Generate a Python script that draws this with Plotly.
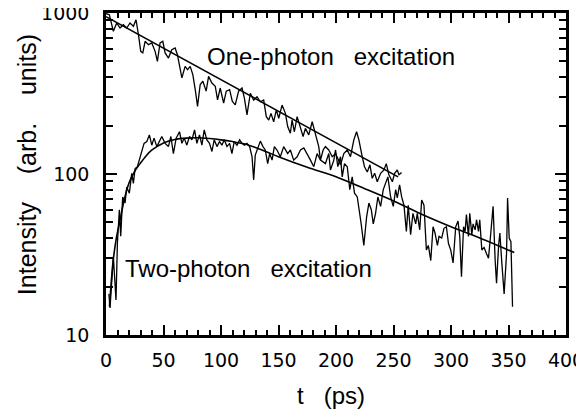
import plotly.graph_objects as go

# one-photon excitation: (t in ps, intensity)
one_photon = [
    (0, 990), (2.9, 976), (6.4, 770), (9.3, 867), (12.2, 807), (15.1, 846), (18, 807),
    (20.9, 867), (23.8, 827), (26.1, 908), (28.2, 733), (30.2, 578), (32, 565), (34, 667),
    (36.9, 636), (39.8, 651), (42.7, 578), (44.7, 501), (47, 651), (49.4, 667), (51.4, 565),
    (54.3, 525), (57.2, 592), (60.1, 606), (62.1, 551), (64.5, 444), (66, 395), (68.8, 466),
    (70.9, 444), (73.2, 466), (75.5, 414), (77.6, 334), (79.6, 263), (81.9, 359), (84.2, 377),
    (87.1, 327), (89.2, 404), (92.1, 367), (95, 351), (97, 289), (99.3, 342), (102.3, 276),
    (104.6, 327), (107.5, 334), (109.8, 283), (112.4, 269), (115.3, 327), (118.3, 342),
    (120.3, 297), (122.6, 233), (125.5, 317), (128.4, 288), (131.3, 302), (134.2, 281),
    (137.1, 288), (139.4, 227), (141.5, 216), (143.5, 238), (145.8, 211), (148.1, 250),
    (150.2, 222), (153.1, 268), (156, 238), (158, 197), (160.3, 179), (161.8, 216),
    (163.8, 183), (166.2, 227), (169.1, 197), (171.4, 171), (173.4, 192), (176.3, 175),
    (179.3, 211), (182.1, 179), (185, 148), (186.5, 122), (188.8, 141), (190.8, 148),
    (193.7, 141), (196.7, 128), (199.6, 134), (201.6, 125), (203.9, 114), (206.8, 134),
    (209.8, 141), (212.6, 128), (215.5, 163), (217.9, 183), (219.9, 163), (222.8, 128),
    (224.8, 111), (227.2, 103), (229.5, 114), (231.5, 94), (233.6, 101), (235.9, 89.5),
    (238.8, 101), (241.7, 106), (243.7, 116), (246, 99), (249, 89.5), (251, 101),
    (253.3, 106), (254.7, 99), (257, 102),
]

# two-photon excitation: (t in ps, intensity)
two_photon = [
    (2.5, 18), (3.5, 14.7), (6.4, 30.6), (8.7, 16.5), (9.9, 37), (11.6, 60), (12.8, 41),
    (14.5, 72), (16.6, 66), (18, 83), (20.3, 76), (22.4, 101), (23.8, 87.5), (25.3, 108),
    (27.3, 111), (29, 122), (31.1, 141), (33.1, 155), (35.5, 159), (37.7, 175), (39.8, 151),
    (41.8, 167), (44.2, 148), (46.5, 159), (48.5, 171), (51.4, 155), (54.3, 148), (56.4, 171),
    (58.6, 134), (61, 167), (63.9, 183), (66, 155), (68, 167), (70.3, 151), (72.6, 171),
    (74.7, 163), (77, 188), (79, 155), (81.3, 175), (83.4, 151), (85.4, 188), (87.7, 163),
    (90, 155), (92.1, 138), (94.1, 163), (96.5, 148), (98.7, 159), (100.8, 151), (102.8, 163),
    (105.2, 148), (107.5, 155), (109.5, 134), (111.5, 159), (113.9, 151), (116.2, 163),
    (118.3, 155), (120.3, 151), (122.6, 155), (124.9, 148), (127, 128), (128.4, 92),
    (129.8, 131), (131.9, 146), (134.2, 160), (136.5, 148), (138.5, 141), (140.6, 116),
    (142.3, 134), (144.4, 122), (146.4, 148), (148.7, 141), (151.6, 128), (154.5, 148),
    (158, 134), (160.3, 141), (163.2, 122), (166.2, 128), (169.1, 141), (172, 145),
    (174.9, 134), (177.8, 122), (180.7, 111), (183.6, 134), (186.5, 122), (190.8, 116),
    (193.7, 134), (195.2, 106), (198.1, 122), (199.6, 141), (201.6, 111), (203.9, 128),
    (205.4, 96), (207.4, 116), (209.8, 111), (212, 80), (214.1, 96), (216.1, 76),
    (218.5, 72), (219.9, 63), (221.9, 49), (224.2, 36), (226.6, 54), (228.6, 66),
    (230.7, 60), (232.4, 49), (234.4, 57), (236.4, 72), (238.8, 63), (241.1, 80),
    (243.1, 87.5), (245.1, 96), (247.5, 72), (249.8, 63), (251.9, 80), (253.3, 71),
    (255.3, 85.5), (257.1, 72), (259.1, 64), (261.2, 44), (262.8, 64), (264.9, 42),
    (266.9, 57), (269.3, 49), (270.7, 57), (272.8, 45), (274.5, 69), (276.5, 64),
    (278.6, 33.7), (280.3, 36), (282.4, 29), (284.4, 47), (286.1, 43), (288.2, 36),
    (289.6, 41), (291.9, 40), (293.9, 46), (296, 47), (297.8, 37), (299.8, 33.7),
    (301.8, 28), (304.1, 47), (306.1, 51), (307.6, 41), (309.1, 23), (310.9, 47),
    (312.3, 44), (313.4, 56), (315.2, 41), (316.3, 57), (318.1, 42), (319.2, 49),
    (321, 45), (322.2, 52), (323.9, 44), (325, 52), (326.8, 33.7), (328.8, 35),
    (330.9, 32), (332.6, 30), (334.6, 43), (336.6, 63), (338.4, 29), (339.6, 21),
    (341.4, 36), (342.5, 43), (344.2, 28), (346.2, 18), (348.3, 32), (349.2, 71),
    (350.6, 40), (352.1, 38), (353.5, 15),
]

# fitted curves
fit1_t = [0, 254]
fit1_y = [950, 96]
fit2_t = [3, 6, 9, 12, 16, 20, 25, 30, 35, 40, 50, 60, 70, 80, 90, 100, 110, 120, 130,
          140, 150, 175, 200, 225, 250, 275, 300, 325, 355]
fit2_y = [15, 28, 40, 51, 70, 88, 104, 117, 130, 141, 156, 164, 167, 168, 166, 163, 159,
          154, 146, 137, 128, 110, 96, 81, 68, 56, 47, 40, 32.5]

TICK_FONT = "DejaVu Sans"
TEXT_FONT = "Liberation Sans, Arial, sans-serif"

fig = go.Figure()
for data in (one_photon, two_photon):
    fig.add_trace(go.Scatter(
        x=[p[0] for p in data], y=[p[1] for p in data], mode="lines",
        line=dict(color="black", width=1.3), hoverinfo="skip"))
fig.add_trace(go.Scatter(x=fit1_t, y=fit1_y, mode="lines",
                         line=dict(color="black", width=1.6)))
fig.add_trace(go.Scatter(x=fit2_t, y=fit2_y, mode="lines",
                         line=dict(color="black", width=1.6, shape="spline", smoothing=0.8)))

# curve labels
fig.add_annotation(x=196, y=2.727, text="One-photon   excitation", showarrow=False,
                   xanchor="center", yanchor="middle",
                   font=dict(size=24, family=TEXT_FONT, color="black"))
fig.add_annotation(x=124, y=1.416, text="Two-photon   excitation", showarrow=False,
                   xanchor="center", yanchor="middle",
                   font=dict(size=24, family=TEXT_FONT, color="black"))

# axis titles
fig.add_annotation(xref="paper", yref="paper", x=-0.17, y=0.53, textangle=-90,
                   xanchor="center", yanchor="middle",
                   text="Intensity    (arb.    units)", showarrow=False,
                   font=dict(size=25, family=TEXT_FONT, color="black"))
fig.add_annotation(xref="paper", yref="paper", x=0.49, y=-0.189,
                   xanchor="center", yanchor="middle",
                   text="t   (ps)", showarrow=False,
                   font=dict(size=24, family=TEXT_FONT, color="black"))

# the page body adds an 8px offset, so margins are shifted to compensate
fig.update_layout(
    width=584, height=412,
    margin=dict(l=98, r=26, t=5, b=85),
    paper_bgcolor="white", plot_bgcolor="white",
    showlegend=False,
    font=dict(family=TICK_FONT, size=19, color="black"),
)

fig.update_xaxes(
    range=[0, 400], tick0=0, dtick=50, ticks="inside", ticklen=10, tickwidth=2,
    tickcolor="black", mirror="allticks", showline=True, linewidth=2.5, linecolor="black",
    showgrid=False, zeroline=False, ticklabelstandoff=6, automargin=False,
    ticklabeloverflow="allow",
    minor=dict(dtick=10, ticks="inside", ticklen=5, tickwidth=1.5, tickcolor="black"),
)
fig.update_yaxes(
    type="log", range=[1, 3], dtick=1, ticks="inside", ticklen=11, tickwidth=2,
    tickcolor="black", mirror="allticks", showline=True, linewidth=2.5, linecolor="black",
    showgrid=False, zeroline=False, ticklabelstandoff=10, automargin=False,
    ticklabeloverflow="allow",
    minor=dict(dtick="D1", ticks="inside", ticklen=7, tickwidth=1.5, tickcolor="black"),
)

fig.write_html("out.html")
